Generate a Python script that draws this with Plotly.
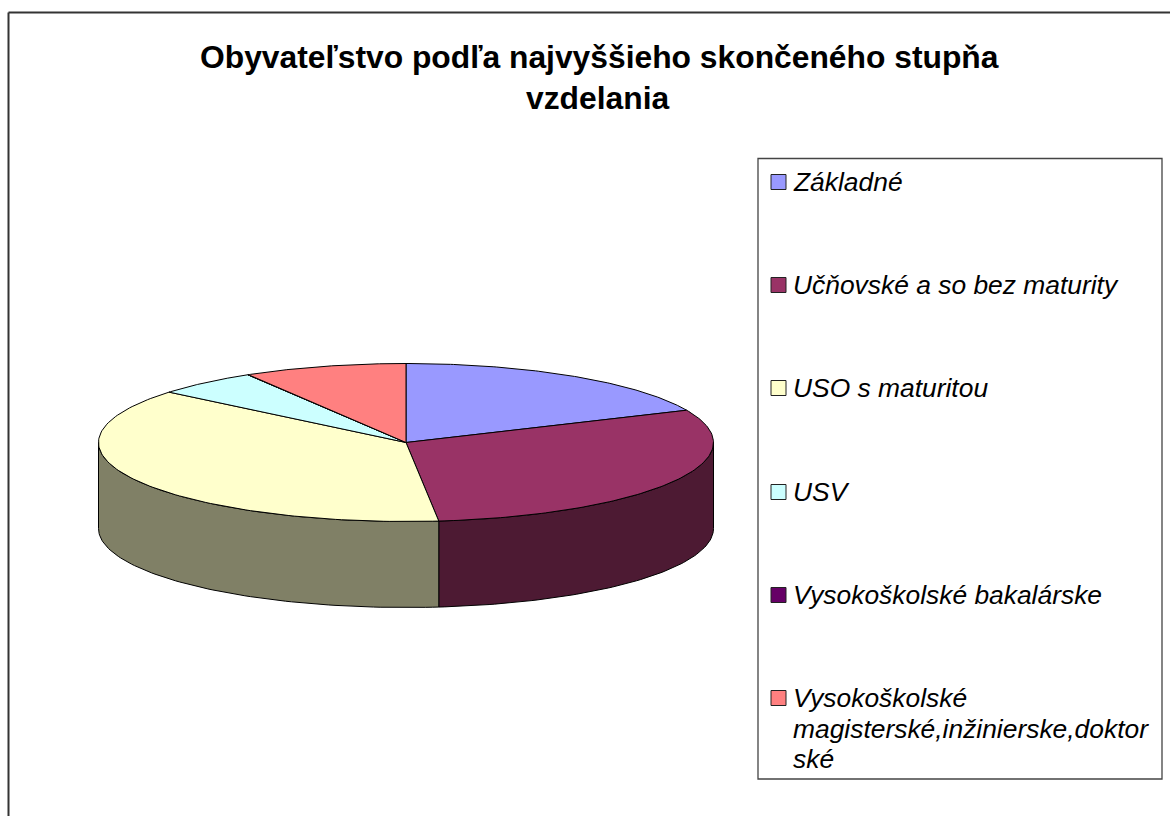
import numpy as np
import plotly.graph_objects as go

categories = ["Základné", "Učňovské a so bez maturity", "USO s maturitou", "USV",
              "Vysokoškolské bakalárske", "Vysokoškolské magisterské,inžinierske,doktorské"]
values = [18.3, 30.0, 37.7, 5.4, 0.03, 8.57]
colors = ["#9999FF", "#993366", "#FFFFCC", "#CCFFFF", "#660066", "#FF8080"]
side_colors = ["#4D4D80", "#4D1A33", "#808066", "#668080", "#330033", "#804040"]
legend_lines = [["Základné"], ["Učňovské a so bez maturity"], ["USO s maturitou"], ["USV"],
                ["Vysokoškolské bakalárske"], ["Vysokoškolské", "magisterské,inžinierske,doktor", "ské"]]
title_lines = ["Obyvateľstvo podľa najvyššieho skončeného stupňa", "vzdelania"]

W, H = 1170, 816
CX, CY, RX, RY, DEPTH = 406, 442.5, 307.5, 79, 86
FONT = "Liberation Sans, Arial, sans-serif"

def pt(deg):
    a = np.radians(deg)
    return CX + RX*np.sin(a), CY - RY*np.cos(a)

fig = go.Figure()
total = sum(values)
edges = np.concatenate([[0], np.cumsum(values)/total*360])

# side walls (front half only)
for i in range(len(values)):
    a0, a1 = max(edges[i], 90), min(edges[i+1], 270)
    if a1 <= a0:
        continue
    t = np.linspace(a0, a1, 80)
    x, y = pt(t)
    xs = np.concatenate([x, x[::-1], x[:1]])
    ys = np.concatenate([y, y[::-1]+DEPTH, y[:1]])
    fig.add_trace(go.Scatter(x=xs, y=ys, mode="lines", fill="toself", fillcolor=side_colors[i],
                             line=dict(color="black", width=1), hoverinfo="skip", showlegend=False))
# top faces
for i in range(len(values)):
    t = np.linspace(edges[i], edges[i+1], 120)
    x, y = pt(t)
    xs = np.concatenate([[CX], x, [CX]])
    ys = np.concatenate([[CY], y, [CY]])
    fig.add_trace(go.Scatter(x=xs, y=ys, mode="lines", fill="toself", fillcolor=colors[i],
                             line=dict(color="black", width=1), hoverinfo="skip", showlegend=False))

# legend keys and labels
key_y = [182, 285, 388, 492, 595, 698]
fig.add_trace(go.Scatter(x=[778.5]*6, y=key_y, mode="markers",
                         marker=dict(symbol="square", size=15, color=colors, line=dict(color="#222", width=1)),
                         hoverinfo="skip", showlegend=False))
ann = []
for yy, lines in zip(key_y, legend_lines):
    for j, s in enumerate(lines):
        ann.append(dict(x=791, y=yy+j*30.5, text=s, xref="x", yref="y", xanchor="left", yanchor="middle",
                        showarrow=False, font=dict(family=FONT, size=26.4, color="black", style="italic")))
for s, xx, yy in zip(title_lines, [599, 597], [57, 98]):
    ann.append(dict(x=xx, y=yy, text="<b>"+s+"</b>", xref="x", yref="y", xanchor="center", yanchor="middle",
                    showarrow=False, font=dict(family=FONT, size=31.8, color="black")))

shapes = [
    dict(type="line", x0=8.5, x1=8.5, y0=12.5, y1=816, line=dict(color="#333", width=2), xref="x", yref="y"),
    dict(type="line", x0=8.5, x1=1170, y0=12.5, y1=12.5, line=dict(color="#333", width=2), xref="x", yref="y"),
    dict(type="rect", x0=758, x1=1162, y0=158.5, y1=779, line=dict(color="#444", width=1.3), xref="x", yref="y"),
]
fig.update_layout(width=W, height=H, margin=dict(l=0, r=0, t=0, b=0), paper_bgcolor="white", plot_bgcolor="white",
                  xaxis=dict(range=[0, W], visible=False), yaxis=dict(range=[H, 0], visible=False),
                  annotations=ann, shapes=shapes, showlegend=False)
fig.write_html("out.html", config={"displayModeBar": False},
               post_script="document.body.style.margin='0';document.documentElement.style.overflow='hidden';")
